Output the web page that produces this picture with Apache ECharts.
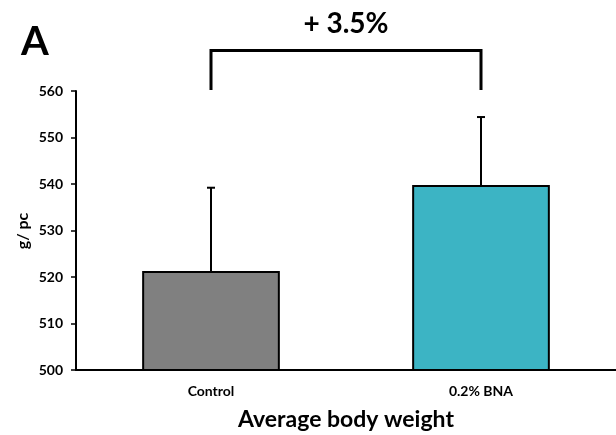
<!DOCTYPE html>
<html>
<head>
<meta charset="utf-8">
<script src="https://cdn.jsdelivr.net/npm/echarts@6/dist/echarts.min.js"></script>
<style>
  html, body { margin: 0; padding: 0; background: #fff; }
  #chart { width: 616px; height: 435px; }
</style>
</head>
<body>
<div id="chart"></div>
<script>
// data
const categories = ['Control', '0.2% BNA'];
const means = [521.3, 539.8];
const errors = [17.9, 14.6];
const barColors = ['#808080', '#3CB4C4'];
const yTicks = { min: 500, max: 560, step: 10 };
const yTitle = 'g/ pc';
const bracketLabel = '+ 3.5%';
const bracketLow = 560.2;
const bracketHigh = 568.7;

const FONT = 'Lato';

const chart = echarts.init(document.getElementById('chart'));

const option = {
  animation: false,
  graphic: [
    {
      type: 'text',
      left: 21,
      top: 22,
      style: { text: 'A', font: 'bold 40px ' + FONT, fill: '#000' }
    },
    {
      // y axis title, placed by hand (v6 pushes axis names past the labels)
      type: 'text',
      x: 23,
      y: 231,
      rotation: Math.PI / 2,
      style: { text: yTitle, font: 'bold 16px ' + FONT, fill: '#000',
               align: 'center', verticalAlign: 'middle' }
    }
  ],
  grid: { left: 76, right: 0, top: 91, bottom: 65, outerBoundsMode: 'none' },
  xAxis: {
    type: 'category',
    data: categories,
    name: 'Average body weight',
    nameLocation: 'middle',
    nameGap: 38,
    nameTextStyle: { fontFamily: FONT, fontWeight: 'bold', fontSize: 23, color: '#000' },
    axisLine: { lineStyle: { color: '#000', width: 2 } },
    axisTick: { show: false },
    axisLabel: { fontFamily: FONT, fontWeight: 'bold', fontSize: 14, color: '#000', margin: 14 }
  },
  yAxis: {
    type: 'value',
    min: yTicks.min,
    max: yTicks.max,
    interval: yTicks.step,
    axisLine: { show: true, lineStyle: { color: '#000', width: 2 } },
    axisTick: { show: true, length: 5, lineStyle: { color: '#000', width: 1.5 } },
    splitLine: { show: false },
    axisLabel: { fontFamily: FONT, fontWeight: 'bold', fontSize: 14, color: '#000', margin: 13 }
  },
  series: [
    {
      type: 'bar',
      barWidth: '51%',
      data: means.map((v, i) => ({
        value: v,
        itemStyle: { color: barColors[i], borderColor: '#000', borderWidth: 2 }
      })),
      z: 2
    },
    {
      // error bars (upper only)
      type: 'custom',
      z: 1,
      data: means.map((v, i) => [i, v, v + errors[i]]),
      renderItem: (params, api) => {
        const base = api.coord([api.value(0), api.value(1)]);
        const top = api.coord([api.value(0), api.value(2)]);
        const cap = 4;
        return {
          type: 'group',
          children: [
            { type: 'line', shape: { x1: top[0], y1: base[1], x2: top[0], y2: top[1] },
              style: { stroke: '#000', lineWidth: 2 } },
            { type: 'line', shape: { x1: top[0] - cap, y1: top[1], x2: top[0] + cap, y2: top[1] },
              style: { stroke: '#000', lineWidth: 2 } }
          ]
        };
      }
    },
    {
      // significance bracket between the two groups
      type: 'custom',
      clip: false,
      z: 3,
      data: [[0, 1, bracketLow, bracketHigh]],
      renderItem: (params, api) => {
        const l0 = api.coord([api.value(0), api.value(2)]);
        const l1 = api.coord([api.value(0), api.value(3)]);
        const r0 = api.coord([api.value(1), api.value(2)]);
        const r1 = api.coord([api.value(1), api.value(3)]);
        return {
          type: 'group',
          children: [
            { type: 'polyline',
              shape: { points: [l0, l1, r1, r0] },
              style: { stroke: '#000', lineWidth: 3, fill: null } },
            { type: 'text',
              x: (l1[0] + r1[0]) / 2,
              y: l1[1] - 27,
              style: { text: bracketLabel, font: 'bold 28px ' + FONT, fill: '#000',
                       align: 'center', verticalAlign: 'middle' } }
          ]
        };
      }
    }
  ]
};

chart.setOption(option);
</script>
</body>
</html>
